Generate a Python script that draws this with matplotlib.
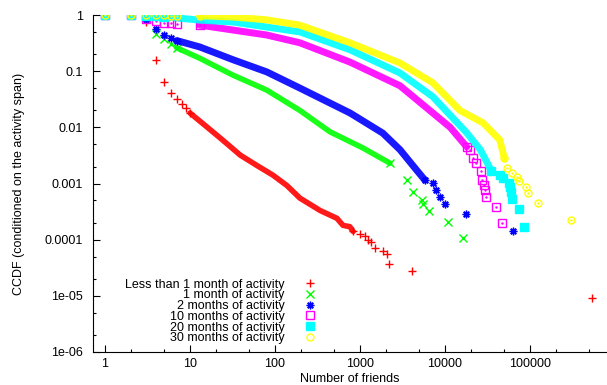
import numpy as np
import matplotlib as mpl
mpl.use('Agg')
import matplotlib.pyplot as plt
import matplotlib.ticker as mticker

# CCDF of number of friends, one series per activity span
labels = [
    'Less than 1 month of activity',
    '1 month of activity',
    '2 months of activity',
    '10 months of activity',
    '20 months of activity',
    '30 months of activity',
]

red_x = [1, 2, 3, 4, 5, 6, 7, 8, 9, 10, 16, 24, 39, 61, 95, 138, 196, 340, 535,
         630, 760, 830, 1000, 1150, 1250, 1350, 1500, 1850, 2100, 2200, 4100, 540000]
red_y = [1, 1, 0.75, 0.16, 0.063, 0.041, 0.032, 0.026, 0.022, 0.018, 0.010, 0.006,
         0.0032, 0.0021, 0.0014, 0.00092, 0.00055, 0.00033, 0.00024, 0.00018,
         0.00017, 0.00014, 0.000126, 0.000117, 0.0001, 9.1e-5, 7.1e-5, 6.3e-5,
         5.6e-5, 3.7e-5, 2.8e-5, 9.2e-6]

green_x = [1, 2, 3, 4, 5, 6, 7, 13, 32, 80, 196, 445, 1080, 2250, 3550, 4200,
           5300, 5500, 6400, 10800, 16500]
green_y = [1, 1, 0.85, 0.46, 0.37, 0.30, 0.26, 0.17, 0.085, 0.046, 0.020, 0.0083,
           0.0043, 0.0023, 0.00115, 0.0007, 0.00051, 0.00044, 0.00032, 0.00021,
           0.000107]

blue_x = [1, 2, 3, 4, 5, 6, 7, 13, 32, 80, 196, 763, 1850, 2950, 4680, 5800,
          7200, 7800, 8700, 10000, 17700, 63000]
blue_y = [1, 1, 0.85, 0.56, 0.44, 0.39, 0.35, 0.27, 0.16, 0.097, 0.05, 0.018,
          0.0079, 0.004, 0.0017, 0.00115, 0.00102, 0.00078, 0.00058, 0.00044,
          0.00029, 0.000145]

magenta_x = [1, 2, 3, 4, 5, 6, 7, 13, 32, 80, 196, 763, 2950, 11500, 18000,
             19500, 21500, 23000, 26500, 27500, 28500, 29500, 30500, 40000, 47000]
magenta_y = [1, 1, 0.85, 0.78, 0.73, 0.72, 0.70, 0.66, 0.54, 0.44, 0.32, 0.145,
             0.055, 0.010, 0.0045, 0.0040, 0.0028, 0.0023, 0.0017, 0.00115,
             0.00093, 0.00078, 0.00058, 0.00038, 0.0002]

cyan_x = [1, 2, 3, 4, 5, 13, 32, 80, 196, 763, 2950, 7200, 18000, 26000, 35000,
          44000, 48000, 56000, 58000, 59000, 61000, 75000, 86000]
cyan_y = [1, 1, 0.97, 0.95, 0.93, 0.81, 0.75, 0.61, 0.5, 0.24, 0.093, 0.035,
          0.008, 0.004, 0.0017, 0.0014, 0.00126, 0.00102, 0.00087, 0.00071,
          0.00054, 0.00035, 0.00017]

yellow_x = [1, 2, 3, 4, 5, 6, 7, 13, 32, 80, 196, 763, 2950, 7200, 15000, 28000,
            44000, 50000, 53000, 61000, 70000, 75000, 90000, 94000, 125000, 307000]
yellow_y = [1, 1, 1, 0.98, 0.98, 0.975, 0.97, 0.97, 0.92, 0.82, 0.66, 0.32, 0.14,
            0.062, 0.020, 0.012, 0.006, 0.0028, 0.0019, 0.00155, 0.00132, 0.00112,
            0.00087, 0.00068, 0.00045, 0.00022]

xtick_vals = [1, 10, 100, 1000, 10000, 100000]
xtick_labels = ['1', '10', '100', '1000', '10000', '100000']
ytick_vals = [1, 0.1, 0.01, 0.001, 0.0001, 1e-05, 1e-06]
ytick_labels = ['1', '0.1', '0.01', '0.001', '0.0001', '1e-05', '1e-06']

plt.rcParams['font.family'] = ['Liberation Sans', 'DejaVu Sans']

# (x, y, colour, marker, filled, first/last index of the dense band)
series = [
    (red_x, red_y, '#ff0000', '+', False, 9, 21),
    (green_x, green_y, '#00ff00', 'x', False, 6, 13),
    (blue_x, blue_y, '#0000ff', (8, 2, 0), False, 6, 15),
    (magenta_x, magenta_y, '#ff00ff', 's', False, 7, 14),
    (cyan_x, cyan_y, '#00ffff', 's', True, 4, 14),
    (yellow_x, yellow_y, '#ffff00', 'o', False, 7, 17),
]

fig = plt.figure(figsize=(6.07, 3.85), dpi=100)
ax = fig.add_axes([93/607, 33/385, 514/607, 337/385])

for (xs, ys, color, marker, filled, b0, b1), label in zip(series, labels):
    xs = np.array(xs, dtype=float)
    ys = np.array(ys, dtype=float)
    lw = 4.0 if color in ('#ff0000', '#00ff00') else 5.0
    # dense part of the curve: thousands of overlapping markers -> thick band
    ax.plot(xs[b0:b1 + 1], ys[b0:b1 + 1], '-', color=color, lw=lw,
            solid_capstyle='round', solid_joinstyle='round', alpha=0.9)
    # sparse points, drawn one by one
    keep = np.r_[0:b0 + 1, b1:len(xs)]
    ms = 5 if marker == 'o' else 5.5
    ax.plot(xs[keep], ys[keep], ls='none', marker=marker, ms=ms,
            mec=color, mfc=color if filled else 'none', mew=1.0, label=label)
    if marker in ('s', 'o') and not filled:
        ax.plot(xs[keep], ys[keep], ls='none', marker='.', ms=1.5, color=color)

ax.set_xscale('log')
ax.set_yscale('log')
ax.set_xlim(0.722, 8.05e5)
ax.set_ylim(1e-6, 1)

ax.set_xticks(xtick_vals)
ax.set_xticklabels(xtick_labels)
ax.set_yticks(ytick_vals)
ax.set_yticklabels(ytick_labels)
ax.xaxis.set_minor_locator(mticker.LogLocator(base=10, subs=(2, 5), numticks=20))
ax.yaxis.set_minor_locator(mticker.LogLocator(base=10, subs=(2, 5), numticks=20))
ax.xaxis.set_minor_formatter(mticker.NullFormatter())
ax.yaxis.set_minor_formatter(mticker.NullFormatter())

ax.spines['top'].set_visible(False)
ax.spines['right'].set_visible(False)
ax.tick_params(which='both', direction='in', width=0.8, labelsize=9,
               top=False, right=False)
ax.tick_params(which='major', length=5)
ax.tick_params(which='minor', length=2.5)
ax.tick_params(axis='y', pad=7)
ax.tick_params(axis='x', pad=4)

ax.set_xlabel('Number of friends', fontsize=9, labelpad=2.5)
ax.set_ylabel('CCDF (conditioned on the activity span)', fontsize=9, labelpad=14)

ax.legend(loc='upper right', bbox_to_anchor=(0.434, 0.218), markerfirst=False,
          frameon=False, handlelength=1.0, handletextpad=1.5, borderpad=0,
          borderaxespad=0, labelspacing=-0.1, fontsize=9)

plt.savefig('out.png', dpi=100)
